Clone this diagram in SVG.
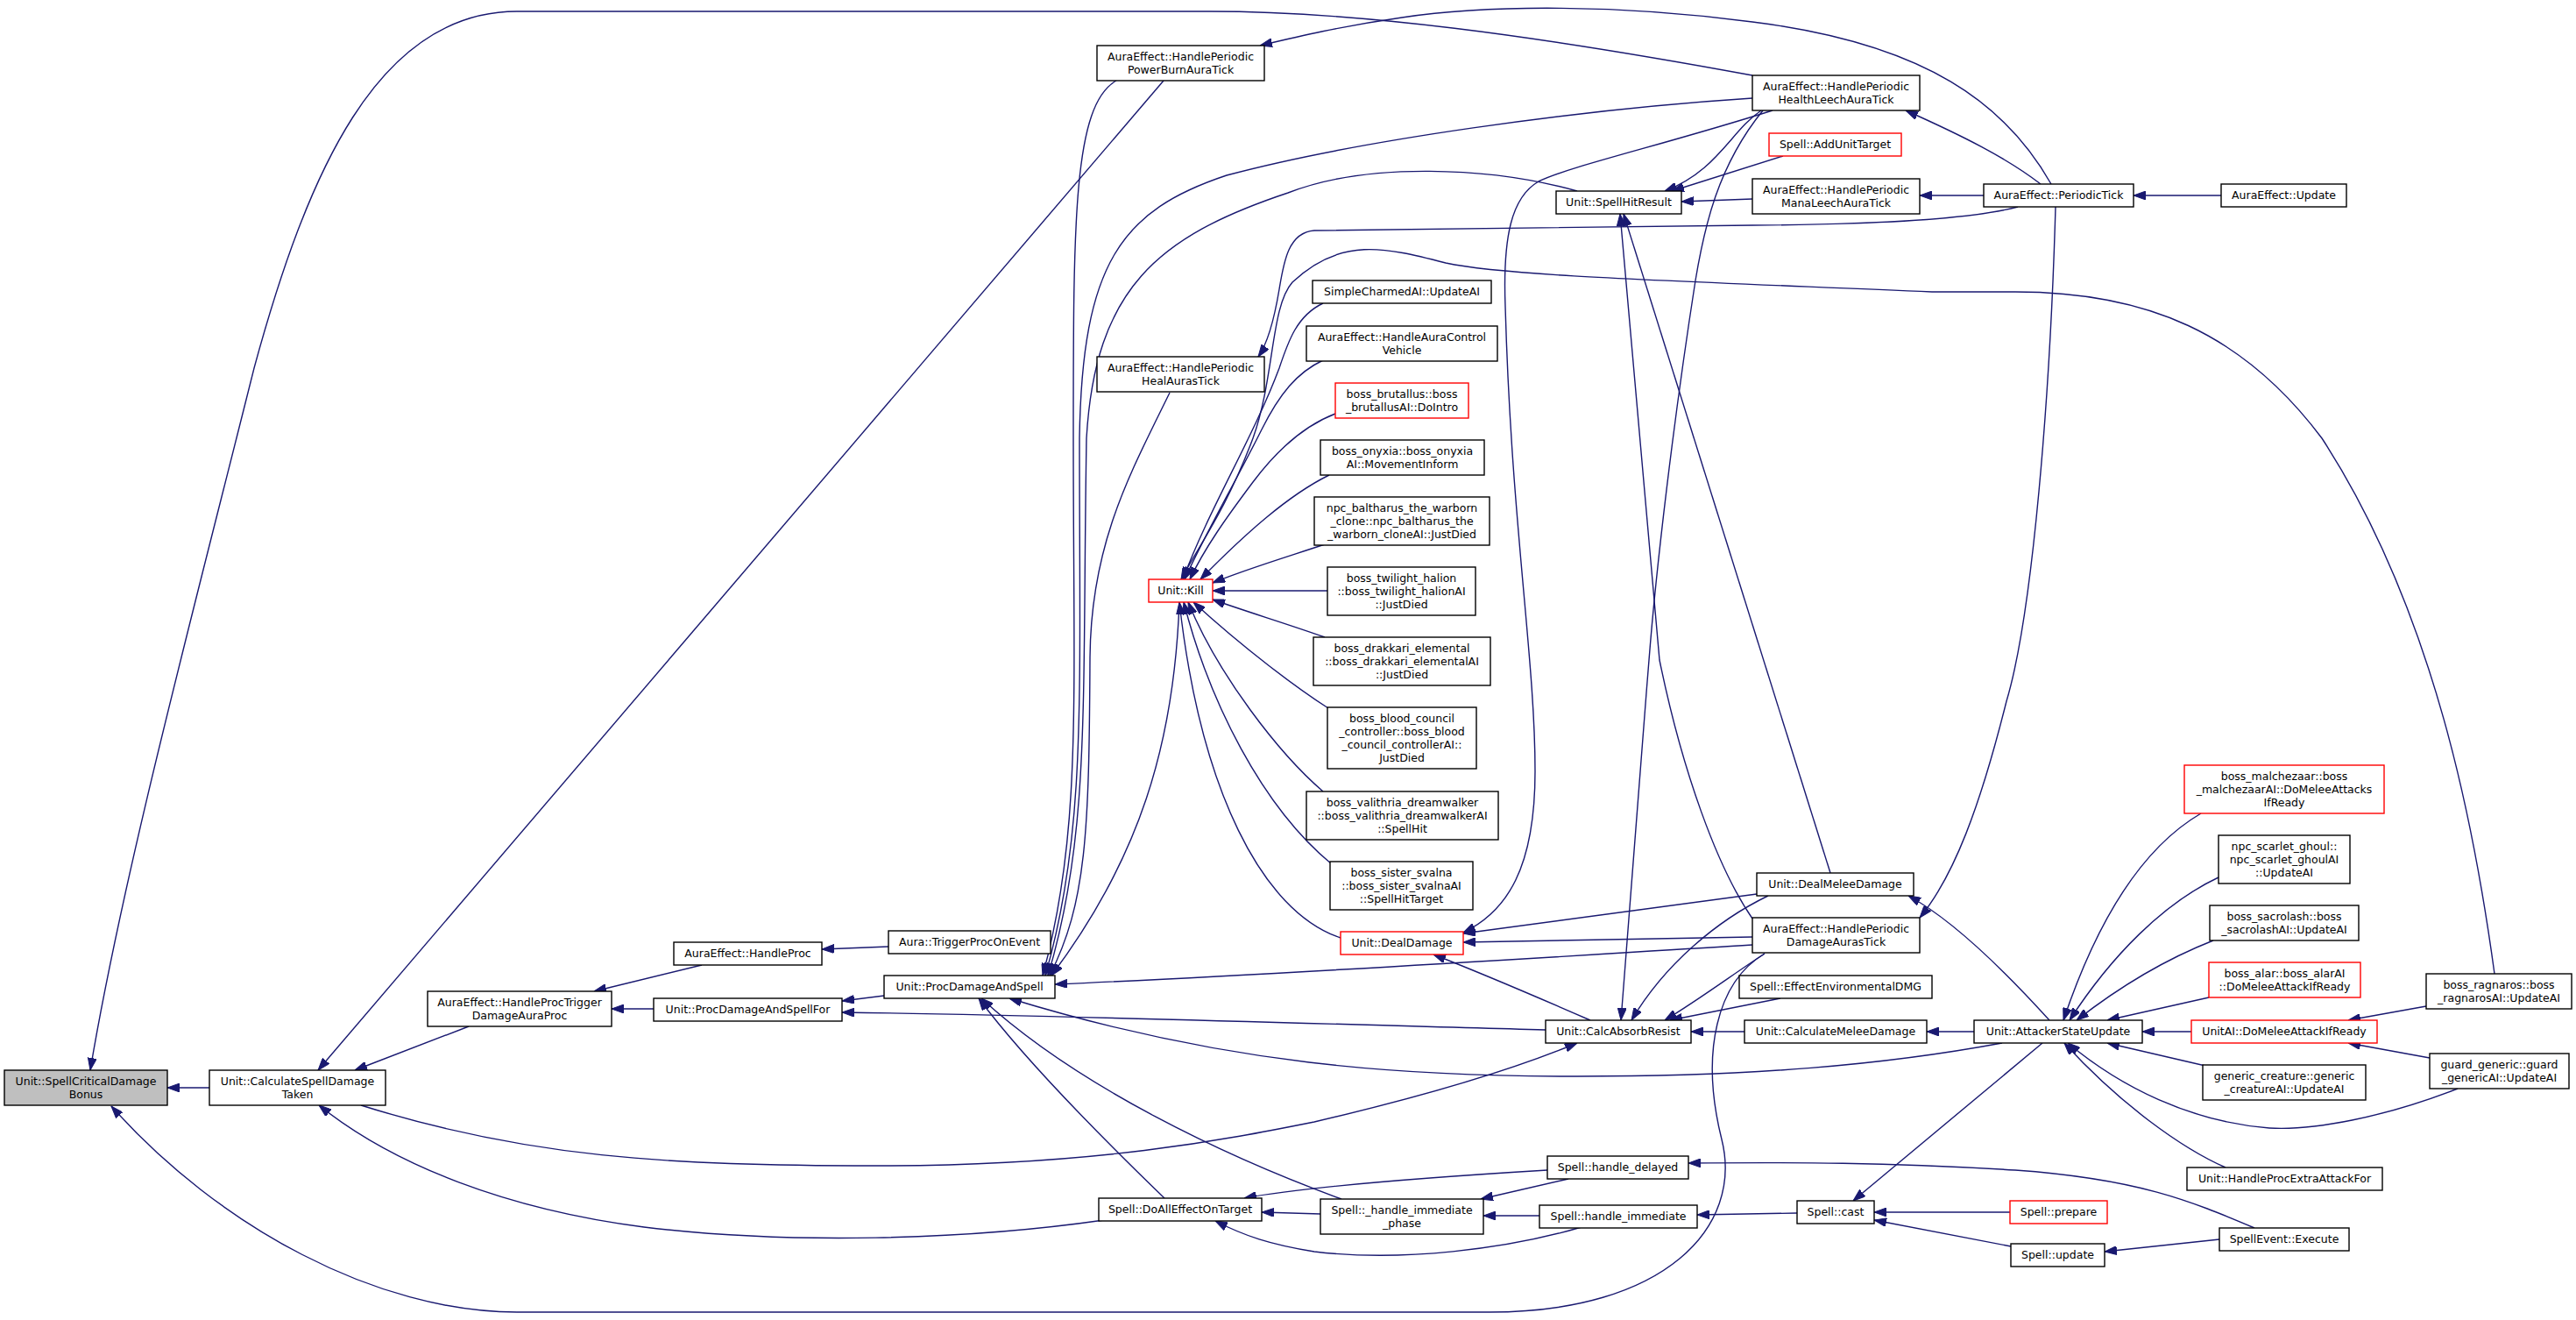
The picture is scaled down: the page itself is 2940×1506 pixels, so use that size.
<svg xmlns="http://www.w3.org/2000/svg" width="2940" height="1506" viewBox="0 0 2940 1506">
<style>
.node rect{fill:#ffffff;stroke:#000000;stroke-width:1.4}
.red rect{stroke:#ff0000}
.root rect{fill:#bfbfbf}
.node text{font-family:"DejaVu Sans",sans-serif;font-size:12.5px;text-anchor:middle;fill:#000000}
#edges path{fill:none;stroke:#191970;stroke-width:1.4;marker-end:url(#ah)}
</style>
<defs>
<marker id="ah" markerUnits="userSpaceOnUse" markerWidth="14" markerHeight="10" refX="14" refY="5" orient="auto">
<path d="M0,0 L14,5 L0,10 z" fill="#191970" stroke="#191970" stroke-width="1"/>
</marker>
</defs>
<rect x="0" y="0" width="2940" height="1506" fill="#ffffff"/>
<g id="edges">
<path d="M239,1241 L191,1241"/>
<path d="M2000,86 C1750,40 1550,13 1380,13 L590,13 C430,13 350,200 290,420 C220,700 140,1000 103,1221"/>
<path d="M2014,1088 C1960,1120 1940,1200 1965,1300 C1990,1400 1900,1497 1700,1497 L590,1497 C430,1497 250,1400 127,1262"/>
<path d="M535,1171 L405,1221"/>
<path d="M1328,92 L363,1221"/>
<path d="M801,1101 L678,1131"/>
<path d="M746,1151 L698,1151"/>
<path d="M1014,1080 L938,1083"/>
<path d="M1009,1136 L961,1142"/>
<path d="M1764,1175 C1500,1168 1200,1158 961,1155"/>
<path d="M2000,1078 C1800,1090 1500,1110 1204,1123"/>
<path d="M2285,1190 C2150,1215 2000,1228 1800,1228 C1600,1228 1400,1215 1152,1139"/>
<path d="M1531,1368 C1400,1320 1230,1240 1120,1139"/>
<path d="M1329,1367 C1270,1310 1170,1210 1117,1139"/>
<path d="M1274,92 C1225,120 1225,250 1225,500 C1225,800 1235,950 1190,1113"/>
<path d="M2000,112 C1800,125 1550,160 1400,200 C1280,240 1235,300 1232,500 C1232,800 1240,950 1193,1113"/>
<path d="M1800,218 C1700,190 1560,185 1470,220 C1320,270 1250,330 1240,500 C1235,800 1245,950 1196,1113"/>
<path d="M1335,448 C1290,540 1245,620 1244,750 C1243,950 1240,1030 1198,1113"/>
<path d="M1346,687 C1340,850 1300,980 1200,1113"/>
<path d="M1510,346 C1480,360 1470,390 1460,420 C1430,500 1380,580 1350,661"/>
<path d="M1510,411 C1480,425 1460,450 1440,490 C1410,550 1375,610 1352,661"/>
<path d="M2847,1111 C2825,950 2780,700 2650,500 C2560,380 2450,333 2300,333 L2205,333 C1900,320 1720,315 1650,300 C1580,282 1530,270 1475,322 C1450,350 1455,430 1430,500 C1400,580 1370,620 1348,661"/>
<path d="M1524,472 C1490,485 1460,510 1430,550 C1400,590 1375,625 1358,661"/>
<path d="M1517,542 C1470,565 1420,610 1370,661"/>
<path d="M1512,621 C1470,635 1420,650 1384,665"/>
<path d="M1515,674 L1384,674"/>
<path d="M1512,727 C1470,712 1420,697 1384,684"/>
<path d="M1516,808 C1480,785 1420,740 1362,687"/>
<path d="M1510,903 C1460,860 1390,770 1356,687"/>
<path d="M1520,986 C1440,920 1380,800 1351,687"/>
<path d="M1530,1070 C1440,1040 1370,900 1346,687"/>
<path d="M2005,1020 L1670,1065"/>
<path d="M2000,1069 L1670,1075"/>
<path d="M1815,1164 C1760,1140 1690,1110 1636,1089"/>
<path d="M2023,126 C1900,165 1790,190 1756,207 C1725,225 1715,270 1718,350 C1725,600 1752,750 1752,880 C1752,990 1720,1040 1670,1064"/>
<path d="M2010,126 C1975,150 1960,195 1900,218"/>
<path d="M2035,178 L1908,218"/>
<path d="M2000,227 L1919,230"/>
<path d="M2000,1048 C1960,990 1920,880 1894,753 L1849,244"/>
<path d="M2089,996 L1853,244"/>
<path d="M2012,126 C1960,190 1945,260 1935,320 C1910,480 1890,650 1882,753 C1870,900 1860,1050 1850,1164"/>
<path d="M2018,1022 C1960,1050 1900,1100 1862,1164"/>
<path d="M2014,1088 C1980,1110 1940,1140 1900,1164"/>
<path d="M2032,1139 L1906,1164"/>
<path d="M1991,1177 L1930,1177"/>
<path d="M412,1261 C600,1320 760,1330 1000,1330 C1250,1330 1400,1300 1500,1280 C1650,1245 1740,1215 1800,1190"/>
<path d="M2535,223 L2435,223"/>
<path d="M2341,210 C2290,120 2200,50 2000,25 C1850,5 1700,5 1600,20 C1530,30 1480,42 1438,52"/>
<path d="M2329,210 C2290,180 2240,155 2175,126"/>
<path d="M2264,223 L2191,223"/>
<path d="M2303,236 C2250,250 2150,256 2000,257 L1500,263 C1470,265 1465,300 1460,330 C1455,360 1448,390 1436,407"/>
<path d="M2346,236 C2340,450 2320,700 2290,800 C2260,920 2230,1000 2191,1047"/>
<path d="M2339,1164 C2290,1110 2230,1050 2178,1022"/>
<path d="M2253,1177 L2199,1177"/>
<path d="M2331,1190 L2115,1370"/>
<path d="M2512,928 C2440,970 2390,1060 2355,1164"/>
<path d="M2532,1001 C2470,1030 2410,1090 2362,1164"/>
<path d="M2526,1073 C2470,1095 2420,1125 2370,1164"/>
<path d="M2521,1138 L2405,1164"/>
<path d="M2501,1177 L2445,1177"/>
<path d="M2517,1216 L2405,1190"/>
<path d="M2805,1242 C2720,1275 2640,1290 2590,1287 C2500,1280 2420,1240 2360,1190"/>
<path d="M2540,1332 C2490,1310 2420,1260 2356,1190"/>
<path d="M2769,1148 L2680,1164"/>
<path d="M2773,1207 L2680,1190"/>
<path d="M2294,1383 L2139,1383"/>
<path d="M2295,1422 L2139,1392"/>
<path d="M2533,1414 L2402,1428"/>
<path d="M2573,1401 C2500,1370 2440,1345 2300,1335 C2150,1326 2050,1326 1927,1327"/>
<path d="M2051,1384 L1937,1386"/>
<path d="M1757,1387 L1693,1387"/>
<path d="M1790,1345 L1690,1368"/>
<path d="M1766,1335 C1650,1342 1500,1352 1420,1367"/>
<path d="M1507,1385 L1440,1383"/>
<path d="M1805,1400 C1720,1425 1600,1440 1500,1428 C1450,1420 1420,1410 1387,1393"/>
<path d="M1260,1392 C1100,1415 900,1420 735,1400 C580,1380 450,1330 364,1261"/>
</g>
<g id="n1" class="node root"><rect x="5" y="1221" width="186" height="40"/><text x="98" y="1237.5">Unit::SpellCriticalDamage</text><text x="98" y="1252.5">Bonus</text></g>
<g id="n2" class="node"><rect x="239" y="1221" width="201" height="40"/><text x="339.5" y="1237.5">Unit::CalculateSpellDamage</text><text x="339.5" y="1252.5">Taken</text></g>
<g id="n3" class="node"><rect x="488" y="1131" width="210" height="40"/><text x="593" y="1147.5">AuraEffect::HandleProcTrigger</text><text x="593" y="1162.5">DamageAuraProc</text></g>
<g id="n4" class="node"><rect x="769" y="1075" width="169" height="26"/><text x="853.5" y="1092">AuraEffect::HandleProc</text></g>
<g id="n5" class="node"><rect x="746" y="1139" width="215" height="26"/><text x="853.5" y="1156">Unit::ProcDamageAndSpellFor</text></g>
<g id="n6" class="node"><rect x="1014" y="1062" width="185" height="26"/><text x="1106.5" y="1079">Aura::TriggerProcOnEvent</text></g>
<g id="n7" class="node"><rect x="1009" y="1113" width="195" height="26"/><text x="1106.5" y="1130">Unit::ProcDamageAndSpell</text></g>
<g id="n8" class="node"><rect x="1254" y="1367" width="186" height="26"/><text x="1347" y="1384">Spell::DoAllEffectOnTarget</text></g>
<g id="n9" class="node"><rect x="1252" y="52" width="191" height="40"/><text x="1347.5" y="68.5">AuraEffect::HandlePeriodic</text><text x="1347.5" y="83.5">PowerBurnAuraTick</text></g>
<g id="n10" class="node"><rect x="1252" y="407" width="191" height="40"/><text x="1347.5" y="423.5">AuraEffect::HandlePeriodic</text><text x="1347.5" y="438.5">HealAurasTick</text></g>
<g id="n11" class="node red"><rect x="1311" y="661" width="73" height="26"/><text x="1347.5" y="678">Unit::Kill</text></g>
<g id="n12" class="node red"><rect x="1530" y="1063" width="140" height="26"/><text x="1600" y="1080">Unit::DealDamage</text></g>
<g id="n13" class="node"><rect x="1498" y="320" width="204" height="26"/><text x="1600" y="337">SimpleCharmedAI::UpdateAI</text></g>
<g id="n14" class="node"><rect x="1491" y="372" width="218" height="40"/><text x="1600" y="388.5">AuraEffect::HandleAuraControl</text><text x="1600" y="403.5">Vehicle</text></g>
<g id="n15" class="node red"><rect x="1524" y="437" width="152" height="40"/><text x="1600" y="453.5">boss_brutallus::boss</text><text x="1600" y="468.5">_brutallusAI::DoIntro</text></g>
<g id="n16" class="node"><rect x="1507" y="502" width="187" height="40"/><text x="1600.5" y="518.5">boss_onyxia::boss_onyxia</text><text x="1600.5" y="533.5">AI::MovementInform</text></g>
<g id="n17" class="node"><rect x="1500" y="567" width="200" height="55"/><text x="1600" y="583.5">npc_baltharus_the_warborn</text><text x="1600" y="598.5">_clone::npc_baltharus_the</text><text x="1600" y="613.5">_warborn_cloneAI::JustDied</text></g>
<g id="n18" class="node"><rect x="1515" y="647" width="169" height="55"/><text x="1599.5" y="663.5">boss_twilight_halion</text><text x="1599.5" y="678.5">::boss_twilight_halionAI</text><text x="1599.5" y="693.5">::JustDied</text></g>
<g id="n19" class="node"><rect x="1499" y="727" width="202" height="55"/><text x="1600" y="743.5">boss_drakkari_elemental</text><text x="1600" y="758.5">::boss_drakkari_elementalAI</text><text x="1600" y="773.5">::JustDied</text></g>
<g id="n20" class="node"><rect x="1515" y="807" width="170" height="70"/><text x="1600" y="823.5">boss_blood_council</text><text x="1600" y="838.5">_controller::boss_blood</text><text x="1600" y="853.5">_council_controllerAI::</text><text x="1600" y="868.5">JustDied</text></g>
<g id="n21" class="node"><rect x="1491" y="903" width="219" height="55"/><text x="1600.5" y="919.5">boss_valithria_dreamwalker</text><text x="1600.5" y="934.5">::boss_valithria_dreamwalkerAI</text><text x="1600.5" y="949.5">::SpellHit</text></g>
<g id="n22" class="node"><rect x="1518" y="983" width="163" height="55"/><text x="1599.5" y="999.5">boss_sister_svalna</text><text x="1599.5" y="1014.5">::boss_sister_svalnaAI</text><text x="1599.5" y="1029.5">::SpellHitTarget</text></g>
<g id="n23" class="node"><rect x="1776" y="218" width="143" height="26"/><text x="1847.5" y="235">Unit::SpellHitResult</text></g>
<g id="n24" class="node"><rect x="2000" y="86" width="191" height="40"/><text x="2095.5" y="102.5">AuraEffect::HandlePeriodic</text><text x="2095.5" y="117.5">HealthLeechAuraTick</text></g>
<g id="n25" class="node red"><rect x="2019" y="152" width="151" height="26"/><text x="2094.5" y="169">Spell::AddUnitTarget</text></g>
<g id="n26" class="node"><rect x="2000" y="204" width="191" height="40"/><text x="2095.5" y="220.5">AuraEffect::HandlePeriodic</text><text x="2095.5" y="235.5">ManaLeechAuraTick</text></g>
<g id="n27" class="node"><rect x="2005" y="996" width="179" height="26"/><text x="2094.5" y="1013">Unit::DealMeleeDamage</text></g>
<g id="n28" class="node"><rect x="2000" y="1047" width="191" height="40"/><text x="2095.5" y="1063.5">AuraEffect::HandlePeriodic</text><text x="2095.5" y="1078.5">DamageAurasTick</text></g>
<g id="n29" class="node"><rect x="1985" y="1113" width="220" height="26"/><text x="2095" y="1130">Spell::EffectEnvironmentalDMG</text></g>
<g id="n30" class="node"><rect x="1991" y="1164" width="208" height="26"/><text x="2095" y="1181">Unit::CalculateMeleeDamage</text></g>
<g id="n31" class="node"><rect x="1764" y="1164" width="166" height="26"/><text x="1847" y="1181">Unit::CalcAbsorbResist</text></g>
<g id="n32" class="node"><rect x="1766" y="1319" width="161" height="26"/><text x="1846.5" y="1336">Spell::handle_delayed</text></g>
<g id="n33" class="node"><rect x="1507" y="1368" width="186" height="40"/><text x="1600" y="1384.5">Spell::_handle_immediate</text><text x="1600" y="1399.5">_phase</text></g>
<g id="n34" class="node"><rect x="1757" y="1375" width="180" height="26"/><text x="1847" y="1392">Spell::handle_immediate</text></g>
<g id="n35" class="node"><rect x="2051" y="1370" width="88" height="26"/><text x="2095" y="1387">Spell::cast</text></g>
<g id="n36" class="node"><rect x="2264" y="210" width="171" height="26"/><text x="2349.5" y="227">AuraEffect::PeriodicTick</text></g>
<g id="n37" class="node"><rect x="2535" y="210" width="143" height="26"/><text x="2606.5" y="227">AuraEffect::Update</text></g>
<g id="n38" class="node"><rect x="2253" y="1164" width="192" height="26"/><text x="2349" y="1181">Unit::AttackerStateUpdate</text></g>
<g id="n39" class="node red"><rect x="2493" y="873" width="228" height="55"/><text x="2607" y="889.5">boss_malchezaar::boss</text><text x="2607" y="904.5">_malchezaarAI::DoMeleeAttacks</text><text x="2607" y="919.5">IfReady</text></g>
<g id="n40" class="node"><rect x="2532" y="953" width="150" height="55"/><text x="2607" y="969.5">npc_scarlet_ghoul::</text><text x="2607" y="984.5">npc_scarlet_ghoulAI</text><text x="2607" y="999.5">::UpdateAI</text></g>
<g id="n41" class="node"><rect x="2522" y="1033" width="170" height="40"/><text x="2607" y="1049.5">boss_sacrolash::boss</text><text x="2607" y="1064.5">_sacrolashAI::UpdateAI</text></g>
<g id="n42" class="node red"><rect x="2521" y="1098" width="173" height="40"/><text x="2607.5" y="1114.5">boss_alar::boss_alarAI</text><text x="2607.5" y="1129.5">::DoMeleeAttackIfReady</text></g>
<g id="n43" class="node red"><rect x="2501" y="1164" width="212" height="26"/><text x="2607" y="1181">UnitAI::DoMeleeAttackIfReady</text></g>
<g id="n44" class="node"><rect x="2514" y="1215" width="186" height="40"/><text x="2607" y="1231.5">generic_creature::generic</text><text x="2607" y="1246.5">_creatureAI::UpdateAI</text></g>
<g id="n45" class="node"><rect x="2496" y="1332" width="223" height="26"/><text x="2607.5" y="1349">Unit::HandleProcExtraAttackFor</text></g>
<g id="n46" class="node"><rect x="2769" y="1111" width="166" height="40"/><text x="2852" y="1127.5">boss_ragnaros::boss</text><text x="2852" y="1142.5">_ragnarosAI::UpdateAI</text></g>
<g id="n47" class="node"><rect x="2773" y="1202" width="159" height="40"/><text x="2852.5" y="1218.5">guard_generic::guard</text><text x="2852.5" y="1233.5">_genericAI::UpdateAI</text></g>
<g id="n48" class="node red"><rect x="2294" y="1370" width="111" height="26"/><text x="2349.5" y="1387">Spell::prepare</text></g>
<g id="n49" class="node"><rect x="2295" y="1419" width="107" height="26"/><text x="2348.5" y="1436">Spell::update</text></g>
<g id="n50" class="node"><rect x="2533" y="1401" width="148" height="26"/><text x="2607" y="1418">SpellEvent::Execute</text></g>
</svg>
